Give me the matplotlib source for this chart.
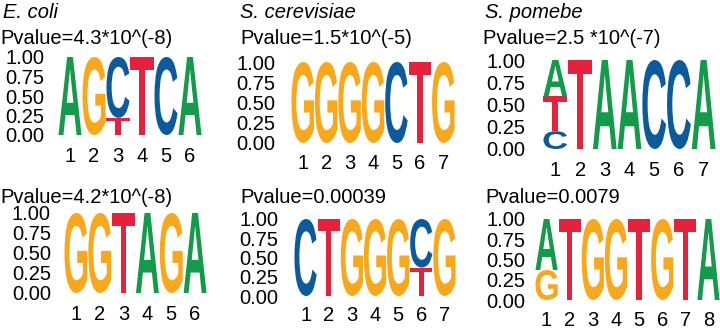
import matplotlib
matplotlib.use("Agg")
import matplotlib.pyplot as plt
from matplotlib.textpath import TextPath
from matplotlib.patches import PathPatch
from matplotlib.font_manager import FontProperties
from matplotlib.transforms import Affine2D

plt.rcParams["font.family"] = ["Liberation Sans", "DejaVu Sans"]

# letter stacks per position, listed bottom -> top as (base, height)
ecoli_top = [[("A", 1.0)], [("G", 1.0)], [("T", 0.22), ("C", 0.78)],
             [("T", 1.0)], [("C", 1.0)], [("A", 1.0)]]
cerev_top = [[("G", 1.0)], [("G", 1.0)], [("G", 1.0)], [("G", 1.0)],
             [("C", 1.0)], [("T", 1.0)], [("G", 1.0)]]
pombe_top = [[("C", 0.20), ("T", 0.39), ("A", 0.41)], [("T", 1.0)], [("A", 1.0)],
             [("A", 1.0)], [("C", 1.0)], [("C", 1.0)], [("A", 1.0)]]
ecoli_bot = [[("G", 1.0)], [("G", 1.0)], [("T", 1.0)],
             [("A", 1.0)], [("G", 1.0)], [("A", 1.0)]]
cerev_bot = [[("C", 1.0)], [("T", 1.0)], [("G", 1.0)], [("G", 1.0)],
             [("G", 1.0)], [("T", 0.37), ("C", 0.63)], [("G", 1.0)]]
pombe_bot = [[("G", 0.37), ("A", 0.63)], [("T", 1.0)], [("G", 1.0)], [("G", 1.0)],
             [("T", 1.0)], [("G", 1.0)], [("T", 1.0)], [("A", 1.0)]]

species = ["E. coli", "S. cerevisiae", "S. pomebe"]
pvalues_top = ["Pvalue=4.3*10^(-8)", "Pvalue=1.5*10^(-5)", "Pvalue=2.5 *10^(-7)"]
pvalues_bot = ["Pvalue=4.2*10^(-8)", "Pvalue=0.00039", "Pvalue=0.0079"]
ytick_vals = [0.0, 0.25, 0.5, 0.75, 1.0]
ytick_labels = ["0.00", "0.25", "0.50", "0.75", "1.00"]

COLORS = {"A": "#139a4a", "C": "#0b5a9c", "G": "#f9a81c", "T": "#e6213c"}
LOGO_FONT = FontProperties(family="Liberation Sans", weight="bold")

W, H = 720, 329
# pixel boxes: (x_left, x_right, y of 1.0, y of 0.0), ytick pad, xtick pad (pt)
boxes = [
    (58, 202, 57, 135, 10, 9),
    (291, 455, 62, 143, 11, 8),
    (543, 716, 60, 149, 12.5, 9),
    (64, 207, 213, 293, 9.5, 8.5),
    (294, 456, 219, 296, 11, 7),
    (535, 720, 219, 300, 7, 8),
]


def draw_letter(ax, letter, x, y0, h, w=0.96):
    tp = TextPath((0, 0), letter, size=1, prop=LOGO_FONT)
    bb = tp.get_extents()
    tr = (Affine2D().translate(-bb.x0, -bb.y0)
          .scale(w / bb.width, h / bb.height)
          .translate(x - w / 2, y0))
    ax.add_patch(PathPatch(tr.transform_path(tp), fc=COLORS[letter], ec="none", lw=0))


def draw_logo(ax, columns):
    for i, stack in enumerate(columns, start=1):
        y = 0.0
        for base, h in stack:
            draw_letter(ax, base, i, y, h)
            y += h


fig = plt.figure(figsize=(W / 100, H / 100), dpi=100)

logos = [ecoli_top, cerev_top, pombe_top, ecoli_bot, cerev_bot, pombe_bot]
for cols, (x0, x1, yt, yb, ypad, xpad) in zip(logos, boxes):
    ax = fig.add_axes([x0 / W, 1 - yb / H, (x1 - x0) / W, (yb - yt) / H])
    ax.set_xlim(0.5, len(cols) + 0.5)
    ax.set_ylim(0, 1)
    draw_logo(ax, cols)
    for s in ax.spines.values():
        s.set_visible(False)
    ax.set_yticks(ytick_vals)
    ax.set_yticklabels(ytick_labels)
    ax.set_xticks(range(1, len(cols) + 1))
    ax.set_xticklabels([str(i) for i in range(1, len(cols) + 1)])
    ax.tick_params(axis="y", length=0, pad=ypad, labelsize=14.5)
    ax.tick_params(axis="x", length=0, pad=xpad, labelsize=14.5)
    ax.patch.set_visible(False)

# species titles and p-values
title_x = [3, 240, 485]
pval_top_x = [0, 240, 483]
pval_bot_x = [0, 240, 485]
for name, tx in zip(species, title_x):
    fig.text(tx / W, 1 - 13 / H, name, fontsize=14.5, style="italic",
             ha="left", va="center")
for pv, px in zip(pvalues_top, pval_top_x):
    fig.text(px / W, 1 - 39 / H, pv, fontsize=14.5, ha="left", va="center")
for pv, px in zip(pvalues_bot, pval_bot_x):
    fig.text(px / W, 1 - 197 / H, pv, fontsize=14.5, ha="left", va="center")

fig.savefig("out.png", dpi=100)
plt.close(fig)
